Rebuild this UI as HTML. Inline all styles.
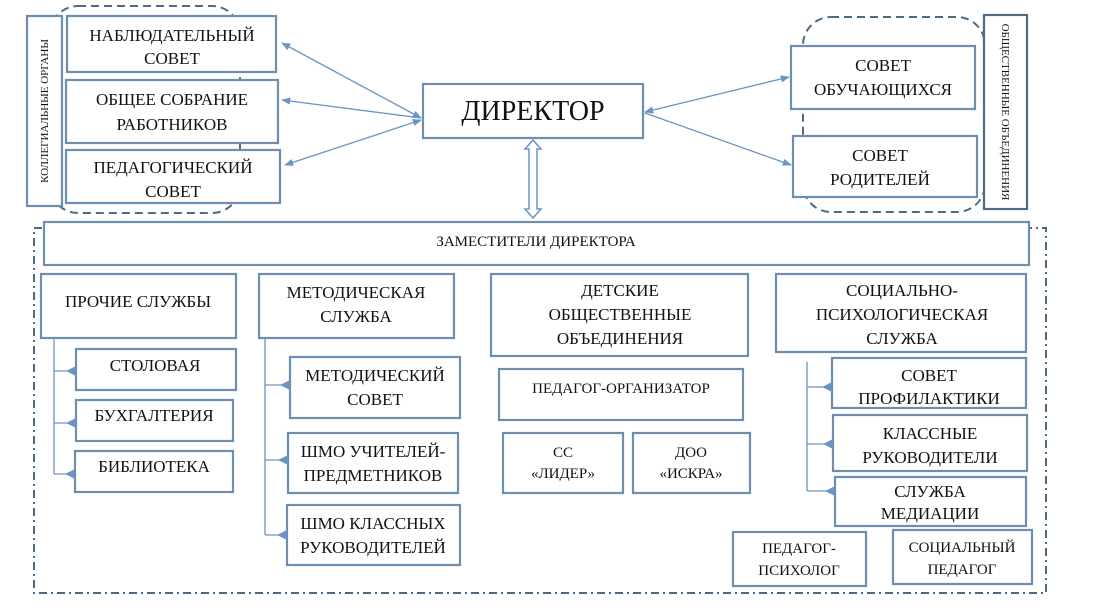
<!DOCTYPE html>
<html><head><meta charset="utf-8"><style>
body{margin:0;background:#fff}
svg text{font-family:"Liberation Serif","DejaVu Serif",serif;fill:#111;text-anchor:middle}
</style></head><body>
<svg width="1095" height="611" viewBox="0 0 1095 611" xmlns="http://www.w3.org/2000/svg">
<defs>
<marker id="a" viewBox="0 0 10 10" refX="9" refY="5" markerWidth="7" markerHeight="7" orient="auto-start-reverse"><path d="M0,1 L10,5 L0,9 z" fill="#6a95c2"/></marker>
</defs>
<g fill="none" stroke="#4f6a84" stroke-width="2">
<rect x="50" y="6" width="190" height="207" rx="28" stroke-dasharray="8,5"/>
<rect x="803" y="17" width="182" height="195" rx="28" stroke-dasharray="8,5"/>
<rect x="34" y="228" width="1012" height="365" stroke-dasharray="8,4,2,4"/>
</g>
<g fill="#fff" stroke="#6d8eae" stroke-width="2.2">
<rect x="27" y="16" width="35" height="190"/>
<rect x="67" y="16" width="209" height="56"/>
<rect x="66" y="80" width="212" height="63"/>
<rect x="66" y="150" width="214" height="53"/>
<rect x="423" y="84" width="220" height="54"/>
<rect x="791" y="46" width="184" height="63"/>
<rect x="793" y="136" width="184" height="61"/>
<rect x="984" y="15" width="43" height="194" stroke="#4f6a84"/>
<rect x="44" y="222" width="985" height="43"/>
<rect x="41" y="274" width="195" height="64"/>
<rect x="76" y="349" width="160" height="41"/>
<rect x="76" y="400" width="157" height="41"/>
<rect x="75" y="451" width="158" height="41"/>
<rect x="259" y="274" width="195" height="64"/>
<rect x="290" y="357" width="170" height="61"/>
<rect x="288" y="433" width="170" height="60"/>
<rect x="287" y="505" width="173" height="60"/>
<rect x="491" y="274" width="257" height="82"/>
<rect x="499" y="369" width="244" height="51"/>
<rect x="503" y="433" width="120" height="60"/>
<rect x="633" y="433" width="117" height="60"/>
<rect x="776" y="274" width="250" height="78"/>
<rect x="832" y="358" width="194" height="50"/>
<rect x="833" y="415" width="194" height="56"/>
<rect x="835" y="477" width="191" height="49"/>
<rect x="733" y="532" width="133" height="54"/>
<rect x="893" y="530" width="139" height="54"/>
</g>
<g stroke="#6a95c2" stroke-width="1.3" fill="none">
<line x1="421" y1="118" x2="282" y2="43" marker-start="url(#a)" marker-end="url(#a)"/>
<line x1="421" y1="118" x2="282" y2="100" marker-end="url(#a)"/>
<line x1="421" y1="120" x2="285" y2="165" marker-start="url(#a)" marker-end="url(#a)"/>
<line x1="645" y1="112" x2="789" y2="77" marker-start="url(#a)" marker-end="url(#a)"/>
<line x1="645" y1="113" x2="791" y2="165" marker-end="url(#a)"/>
<path d="M54,338 V474 M54,371 H76 M54,423 H76 M54,474 H75"/>
<path d="M265,338 V535 M265,385 H290 M265,460 H288 M265,535 H287"/>
<path d="M807,362 V491 M807,387 H832 M807,444 H833 M807,491 H835"/>
</g>
<g fill="#6a95c2">
<path d="M66,371 l10,-5 v10z M66,423 l10,-5 v10z M65,474 l10,-5 v10z"/>
<path d="M280,385 l10,-5 v10z M278,460 l10,-5 v10z M277,535 l10,-5 v10z"/>
<path d="M822,387 l10,-5 v10z M823,444 l10,-5 v10z M825,491 l10,-5 v10z"/>
</g>
<path d="M533,140 l-8,9 h4 v60 h-4 l8,9 l8,-9 h-4 v-60 h4 z" fill="#fff" stroke="#6a95c2" stroke-width="1.5"/>
<g font-size="17">
<text x="172" y="41">НАБЛЮДАТЕЛЬНЫЙ</text><text x="172" y="64">СОВЕТ</text>
<text x="172" y="105">ОБЩЕЕ СОБРАНИЕ</text><text x="172" y="130">РАБОТНИКОВ</text>
<text x="173" y="173">ПЕДАГОГИЧЕСКИЙ</text><text x="173" y="197">СОВЕТ</text>
<text x="883" y="71">СОВЕТ</text><text x="883" y="95">ОБУЧАЮЩИХСЯ</text>
<text x="880" y="161">СОВЕТ</text><text x="880" y="185">РОДИТЕЛЕЙ</text>
<text x="138" y="307">ПРОЧИЕ СЛУЖБЫ</text>
<text x="155" y="371">СТОЛОВАЯ</text>
<text x="154" y="421">БУХГАЛТЕРИЯ</text>
<text x="154" y="472">БИБЛИОТЕКА</text>
<text x="356" y="298">МЕТОДИЧЕСКАЯ</text><text x="356" y="322">СЛУЖБА</text>
<text x="375" y="381">МЕТОДИЧЕСКИЙ</text><text x="375" y="405">СОВЕТ</text>
<text x="373" y="457">ШМО УЧИТЕЛЕЙ-</text><text x="373" y="481">ПРЕДМЕТНИКОВ</text>
<text x="373" y="529">ШМО КЛАССНЫХ</text><text x="373" y="553">РУКОВОДИТЕЛЕЙ</text>
<text x="620" y="296">ДЕТСКИЕ</text><text x="620" y="320">ОБЩЕСТВЕННЫЕ</text><text x="620" y="344">ОБЪЕДИНЕНИЯ</text>
<text x="902" y="296">СОЦИАЛЬНО-</text><text x="902" y="320">ПСИХОЛОГИЧЕСКАЯ</text><text x="902" y="344">СЛУЖБА</text>
<text x="929" y="381">СОВЕТ</text><text x="929" y="404">ПРОФИЛАКТИКИ</text>
<text x="930" y="439">КЛАССНЫЕ</text><text x="930" y="463">РУКОВОДИТЕЛИ</text>
<text x="930" y="497">СЛУЖБА</text><text x="930" y="519">МЕДИАЦИИ</text>
</g>
<g font-size="15">
<text x="536" y="246">ЗАМЕСТИТЕЛИ ДИРЕКТОРА</text>
<text x="621" y="393">ПЕДАГОГ-ОРГАНИЗАТОР</text>
<text x="563" y="457">СС</text><text x="563" y="478">«ЛИДЕР»</text>
<text x="691" y="457">ДОО</text><text x="691" y="478">«ИСКРА»</text>
<text x="799" y="553">ПЕДАГОГ-</text><text x="799" y="575">ПСИХОЛОГ</text>
<text x="962" y="552">СОЦИАЛЬНЫЙ</text><text x="962" y="574">ПЕДАГОГ</text>
</g>
<text x="533" y="120" font-size="28">ДИРЕКТОР</text>
<text font-size="11" transform="translate(48,111) rotate(-90)">КОЛЛЕГИАЛЬНЫЕ ОРГАНЫ</text>
<text font-size="11" transform="translate(1002,112) rotate(90)">ОБЩЕСТВЕННЫЕ ОБЪЕДИНЕНИЯ</text>
</svg>
</body></html>
